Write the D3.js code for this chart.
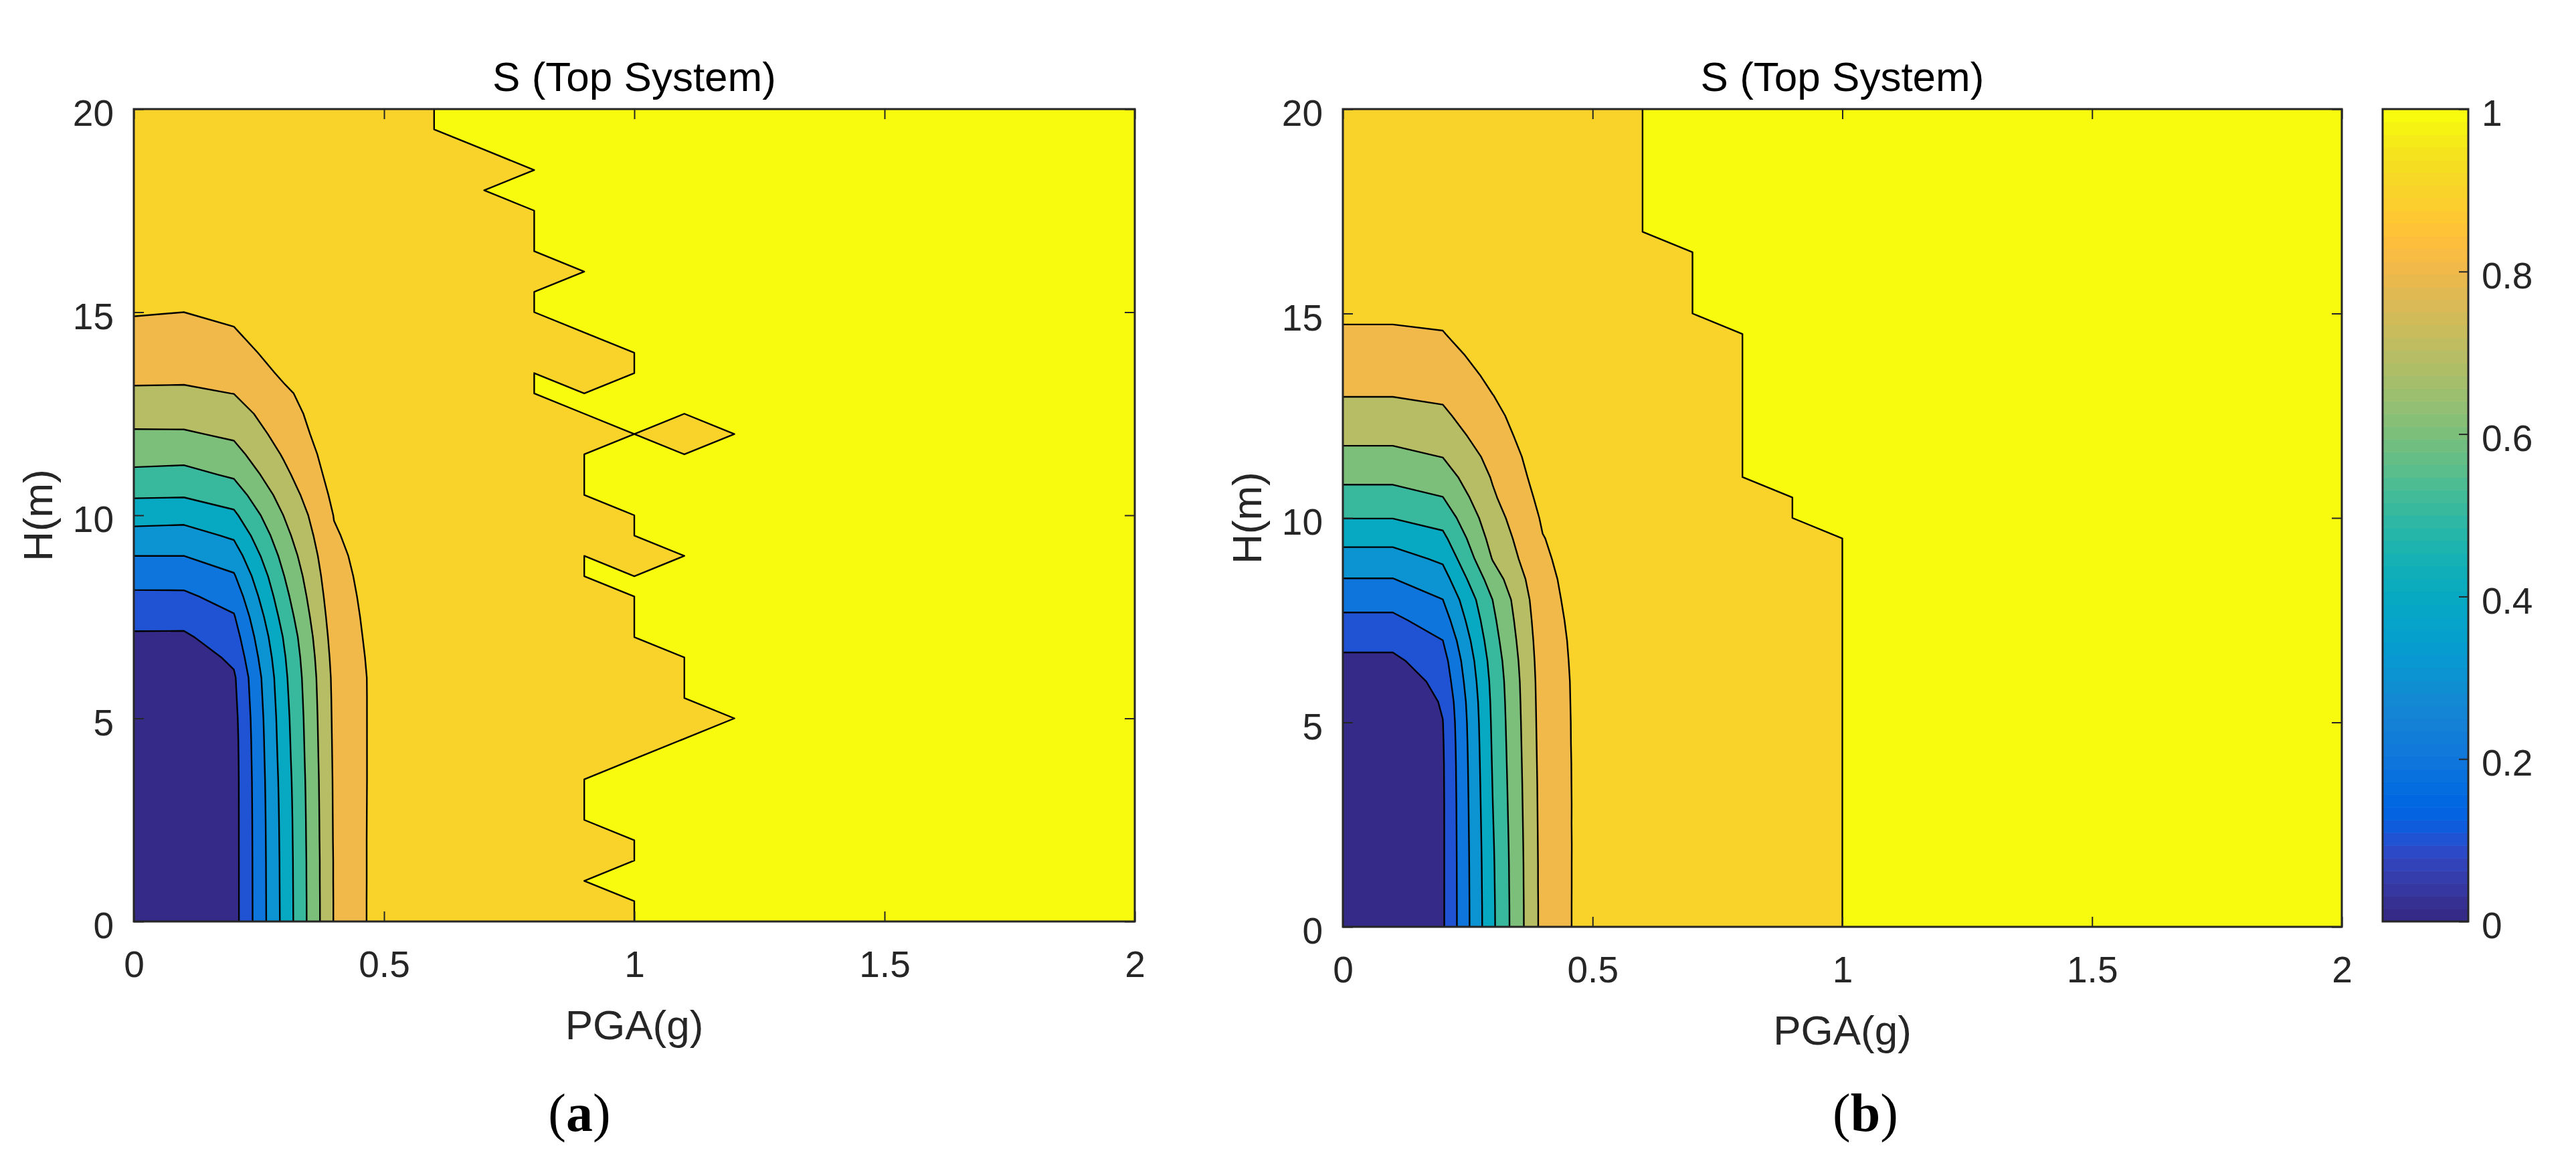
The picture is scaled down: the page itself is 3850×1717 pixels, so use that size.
<!DOCTYPE html>
<html>
<head>
<meta charset="utf-8">
<title>S (Top System)</title>
<script src="https://cdn.jsdelivr.net/npm/d3@7"></script>
<style>
  body { margin: 0; background: #fff; }
  svg { display: block; }
</style>
</head>
<body>
<svg id="chart" width="3850" height="1717"></svg>
<script>
// --- grid the surface was sampled on ---
const pgaGrid = [0, 0.1, 0.2, 0.3, 0.4, 0.5, 0.6, 0.7, 0.8, 0.9, 1.0,
                 1.1, 1.2, 1.3, 1.4, 1.5, 1.6, 1.7, 1.8, 1.9, 2.0]
const hGrid = [0, 0.5, 1, 1.5, 2, 2.5, 3, 3.5, 4, 4.5, 5, 5.5, 6, 6.5, 7, 7.5,
               8, 8.5, 9, 9.5, 10, 10.5, 11, 11.5, 12, 12.5, 13, 13.5, 14, 14.5,
               15, 15.5, 16, 16.5, 17, 17.5, 18, 18.5, 19, 19.5, 20]

const levels = [0, 0.1, 0.2, 0.3, 0.4, 0.5, 0.6, 0.7, 0.8, 0.9, 1]
const xTicks = [0, 0.5, 1, 1.5, 2]
const yTicks = [0, 5, 10, 15, 20]
const cbTicks = [0, 0.2, 0.4, 0.6, 0.8, 1]

// parula, 64 steps
const parula = [
  '#352a87', '#363093', '#3637a0', '#353dad', '#3243ba', '#2c4ac7', '#2053d4', '#0f5cdd',
  '#0363e1', '#0268e1', '#046de0', '#0871de', '#0d75dc', '#1079da', '#127dd8', '#1481d6',
  '#1485d4', '#1389d3', '#108ed2', '#0c93d2', '#0998d1', '#079ccf', '#06a0cd', '#06a4ca',
  '#06a7c6', '#07a9c2', '#0aacbe', '#0faeb9', '#15b1b4', '#1db3af', '#25b5a9', '#2eb7a4',
  '#38b99e', '#42bb98', '#4dbc92', '#59bd8c', '#65be86', '#71bf80', '#7cbf7b', '#87bf77',
  '#92bf73', '#9cbf6f', '#a5be6b', '#aebe67', '#b7bd64', '#c0bc60', '#c8bc5d', '#d1bb59',
  '#d9ba56', '#e1b952', '#e9b94e', '#f1b94a', '#f8bb44', '#fdbe3d', '#ffc337', '#fec832',
  '#fcce2e', '#fad32a', '#f7d826', '#f5de21', '#f5e41d', '#f5eb18', '#f6f313', '#f9fb0e'
]

// value of S in the wide band right of PGA 0.5 that has not reached 1
const plateau = 0.97

// (a): S at PGA 0..0.5, one row per H (0 -> 20)
const leftCore = [
  [0.000, 0.000, 0.063, 0.430, 0.805, 0.951],
  [0.000, 0.000, 0.063, 0.431, 0.805, 0.951],
  [0.000, 0.000, 0.063, 0.432, 0.806, 0.950],
  [0.000, 0.000, 0.063, 0.433, 0.806, 0.950],
  [0.000, 0.000, 0.063, 0.435, 0.808, 0.949],
  [0.000, 0.000, 0.063, 0.437, 0.809, 0.948],
  [0.000, 0.000, 0.063, 0.440, 0.810, 0.947],
  [0.000, 0.000, 0.063, 0.444, 0.811, 0.946],
  [0.000, 0.000, 0.064, 0.450, 0.813, 0.945],
  [0.000, 0.000, 0.066, 0.455, 0.815, 0.944],
  [0.000, 0.000, 0.070, 0.460, 0.817, 0.943],
  [0.000, 0.000, 0.078, 0.468, 0.819, 0.942],
  [0.000, 0.000, 0.086, 0.476, 0.822, 0.941],
  [0.038, 0.037, 0.121, 0.489, 0.830, 0.943],
  [0.086, 0.085, 0.156, 0.508, 0.840, 0.945],
  [0.134, 0.134, 0.192, 0.538, 0.850, 0.946],
  [0.182, 0.183, 0.239, 0.568, 0.860, 0.947],
  [0.238, 0.239, 0.290, 0.598, 0.870, 0.948],
  [0.300, 0.300, 0.350, 0.632, 0.880, 0.950],
  [0.368, 0.363, 0.414, 0.668, 0.892, 0.952],
  [0.439, 0.433, 0.481, 0.703, 0.903, 0.955],
  [0.512, 0.509, 0.549, 0.741, 0.920, 0.958],
  [0.579, 0.572, 0.613, 0.778, 0.935, 0.960],
  [0.636, 0.632, 0.667, 0.810, 0.945, 0.962],
  [0.688, 0.689, 0.716, 0.840, 0.955, 0.965],
  [0.738, 0.738, 0.759, 0.862, 0.960, 0.967],
  [0.787, 0.786, 0.801, 0.885, 0.962, 0.968],
  [0.821, 0.819, 0.832, 0.915, 0.964, 0.970],
  [0.849, 0.846, 0.863, 0.940, 0.966, 0.971],
  [0.877, 0.873, 0.894, 0.950, 0.967, 0.972],
  [0.906, 0.900, 0.915, 0.955, 0.968, 0.973],
  [0.920, 0.915, 0.930, 0.958, 0.969, 0.974],
  [0.930, 0.928, 0.940, 0.960, 0.970, 0.975],
  [0.938, 0.936, 0.948, 0.962, 0.971, 0.976],
  [0.943, 0.942, 0.953, 0.964, 0.972, 0.977],
  [0.947, 0.946, 0.957, 0.966, 0.973, 0.978],
  [0.950, 0.950, 0.960, 0.968, 0.974, 0.978],
  [0.953, 0.953, 0.962, 0.970, 0.975, 0.979],
  [0.956, 0.956, 0.964, 0.971, 0.976, 0.979],
  [0.958, 0.958, 0.966, 0.972, 0.977, 0.980],
  [0.960, 0.960, 0.968, 0.973, 0.978, 0.980]
]
// (a): first PGA where S = 1, per H
const leftEdge = [1.0, 1.0, 0.9, 1.0, 1.0, 0.9, 0.9, 0.9, 1.0, 1.1, 1.2, 1.1, 1.1, 1.1,
                  1.0, 1.0, 1.0, 0.9, 0.9, 1.0, 1.0, 0.9, 0.9, 0.9, 1.0, 0.9, 0.8, 0.8,
                  1.0, 0.9, 0.8, 0.8, 0.9, 0.8, 0.8, 0.8, 0.7, 0.8, 0.7, 0.6, 0.6]
// (a): isolated nodes below 1 inside the S = 1 area [PGA, H]
const leftPockets = [[1.0, 9.0], [1.1, 12.0], [0.9, 13.5]]

// (b)
const rightCore = [
  [0.000, 0.000, 0.088, 0.483, 0.831, 0.950],
  [0.000, 0.000, 0.088, 0.484, 0.831, 0.950],
  [0.000, 0.000, 0.088, 0.486, 0.832, 0.949],
  [0.000, 0.000, 0.088, 0.488, 0.832, 0.949],
  [0.000, 0.000, 0.088, 0.491, 0.833, 0.948],
  [0.000, 0.000, 0.088, 0.495, 0.834, 0.948],
  [0.000, 0.000, 0.088, 0.499, 0.835, 0.947],
  [0.000, 0.000, 0.089, 0.503, 0.836, 0.947],
  [0.000, 0.000, 0.090, 0.507, 0.838, 0.946],
  [0.000, 0.000, 0.093, 0.511, 0.840, 0.946],
  [0.000, 0.000, 0.098, 0.515, 0.842, 0.945],
  [0.000, 0.000, 0.110, 0.520, 0.844, 0.945],
  [0.029, 0.029, 0.135, 0.527, 0.846, 0.945],
  [0.079, 0.079, 0.160, 0.540, 0.850, 0.946],
  [0.129, 0.129, 0.199, 0.560, 0.855, 0.947],
  [0.179, 0.179, 0.250, 0.580, 0.862, 0.949],
  [0.235, 0.235, 0.299, 0.601, 0.870, 0.951],
  [0.297, 0.297, 0.357, 0.650, 0.878, 0.952],
  [0.361, 0.361, 0.416, 0.705, 0.888, 0.953],
  [0.429, 0.429, 0.476, 0.735, 0.897, 0.954],
  [0.502, 0.502, 0.538, 0.761, 0.910, 0.955],
  [0.563, 0.563, 0.598, 0.788, 0.925, 0.958],
  [0.622, 0.622, 0.652, 0.808, 0.940, 0.960],
  [0.675, 0.675, 0.702, 0.830, 0.950, 0.962],
  [0.722, 0.722, 0.742, 0.860, 0.955, 0.965],
  [0.763, 0.763, 0.782, 0.880, 0.960, 0.967],
  [0.803, 0.803, 0.815, 0.899, 0.962, 0.968],
  [0.831, 0.831, 0.842, 0.920, 0.964, 0.970],
  [0.859, 0.859, 0.870, 0.940, 0.966, 0.971],
  [0.887, 0.887, 0.897, 0.950, 0.967, 0.972],
  [0.915, 0.915, 0.915, 0.955, 0.968, 0.973],
  [0.928, 0.928, 0.930, 0.958, 0.969, 0.974],
  [0.938, 0.938, 0.940, 0.960, 0.970, 0.975],
  [0.944, 0.944, 0.948, 0.962, 0.971, 0.976],
  [0.948, 0.948, 0.953, 0.964, 0.972, 0.977],
  [0.951, 0.951, 0.957, 0.966, 0.973, 0.978],
  [0.953, 0.953, 0.960, 0.968, 0.974, 0.978],
  [0.955, 0.955, 0.962, 0.970, 0.975, 0.979],
  [0.957, 0.957, 0.964, 0.971, 0.976, 0.979],
  [0.959, 0.959, 0.966, 0.972, 0.977, 0.980],
  [0.960, 0.960, 0.968, 0.973, 0.978, 0.980]
]
const rightEdge = [1.0, 1.0, 1.0, 1.0, 1.0, 1.0, 1.0, 1.0, 1.0, 1.0, 1.0, 1.0, 1.0, 1.0,
                   1.0, 1.0, 1.0, 1.0, 1.0, 1.0, 0.9, 0.9, 0.8, 0.8, 0.8, 0.8, 0.8, 0.8,
                   0.8, 0.8, 0.7, 0.7, 0.7, 0.7, 0.6, 0.6, 0.6, 0.6, 0.6, 0.6, 0.6]
const rightPockets = []

const fontSans = '"Liberation Sans", Arial, Helvetica, sans-serif'
const ink = '#262626'

function buildGrid(core, edge, pockets) {
  const values = []
  hGrid.forEach((h, j) => {
    pgaGrid.forEach((x, i) => {
      if (i < core[j].length) {
        values.push(core[j][i])
        return
      }
      const inPocket = pockets.some(p => Math.abs(p[0] - x) < 1e-6 && Math.abs(p[1] - h) < 1e-6)
      values.push(!inPocket && x >= edge[j] - 1e-6 ? 1 : plateau)
    })
  })
  return values
}

function levelColor(v) {
  return parula[Math.min(parula.length - 1, Math.floor(v * parula.length + 1e-9))]
}

const svg = d3.select('#chart')
svg.append('rect').attr('width', 3850).attr('height', 1717).attr('fill', '#fff')

function drawPanel(cfg) {
  const { core, edge, pockets, x0, x1, y0, y1, tag, capX, id } = cfg
  const nx = pgaGrid.length
  const ny = hGrid.length

  const x = d3.scaleLinear().domain([0, 2]).range([x0, x1])
  const y = d3.scaleLinear().domain([0, 20]).range([y1, y0])

  // contour-space -> data
  const gx = d3.scaleLinear().domain([0.5, nx - 0.5]).range([pgaGrid[0], pgaGrid[nx - 1]])
  const gy = d3.scaleLinear().domain([0.5, ny - 0.5]).range([hGrid[0], hGrid[ny - 1]])
  const path = d3.geoPath(d3.geoTransform({
    point: function(px, py) { this.stream.point(x(gx(px)), y(gy(py))) }
  }))

  const values = buildGrid(core, edge, pockets)
  const bands = d3.contours().size([nx, ny]).thresholds(levels)(values)

  svg.append('clipPath').attr('id', id)
    .append('rect')
    .attr('x', x0).attr('y', y0).attr('width', x1 - x0).attr('height', y1 - y0)

  const g = svg.append('g').attr('clip-path', `url(#${id})`)

  g.append('g')
    .selectAll('path')
    .data(bands)
    .join('path')
      .attr('d', path)
      .attr('fill', d => levelColor(d.value))
      .attr('stroke', 'none')

  g.append('g')
    .selectAll('path')
    .data(bands.filter(d => d.value > 0))
    .join('path')
      .attr('d', path)
      .attr('fill', 'none')
      .attr('stroke', '#000')
      .attr('stroke-width', 2.4)
      .attr('stroke-linejoin', 'round')

  // --- axes ---
  const styleAxis = sel => {
    sel.select('.domain').remove()
    sel.selectAll('.tick line').attr('stroke', ink).attr('stroke-width', 2)
    sel.selectAll('.tick text')
      .attr('fill', ink)
      .style('font-family', fontSans)
      .style('font-size', '55px')
  }

  svg.append('g')
    .attr('transform', `translate(0,${y1})`)
    .call(d3.axisBottom(x).tickValues(xTicks).tickSize(-15).tickPadding(44).tickFormat(d3.format('')))
    .call(styleAxis)

  svg.append('g')
    .attr('transform', `translate(0,${y0})`)
    .call(d3.axisTop(x).tickValues(xTicks).tickSize(-15).tickFormat(''))
    .call(styleAxis)

  svg.append('g')
    .attr('transform', `translate(${x0},0)`)
    .call(d3.axisLeft(y).tickValues(yTicks).tickSize(-15).tickPadding(30).tickFormat(d3.format('')))
    .call(styleAxis)
    .call(sel => sel.selectAll('.tick text').attr('dy', '0.45em'))

  svg.append('g')
    .attr('transform', `translate(${x1},0)`)
    .call(d3.axisRight(y).tickValues(yTicks).tickSize(-15).tickFormat(''))
    .call(styleAxis)

  svg.append('rect')
    .attr('x', x0).attr('y', y0).attr('width', x1 - x0).attr('height', y1 - y0)
    .attr('fill', 'none').attr('stroke', ink).attr('stroke-width', 3)

  // --- text ---
  const cx = (x0 + x1) / 2
  svg.append('text')
    .attr('x', cx).attr('y', 136)
    .attr('text-anchor', 'middle')
    .style('font-family', fontSans).style('font-size', '62px')
    .attr('fill', '#000')
    .text('S (Top System)')

  svg.append('text')
    .attr('x', cx).attr('y', y1 + 176)
    .attr('text-anchor', 'middle')
    .style('font-family', fontSans).style('font-size', '62px')
    .attr('fill', ink)
    .text('PGA(g)')

  svg.append('text')
    .attr('transform', `translate(${x0 - 122},${(y0 + y1) / 2}) rotate(-90)`)
    .attr('text-anchor', 'middle')
    .style('font-family', fontSans).style('font-size', '62px')
    .attr('fill', ink)
    .text('H(m)')

  const cap = svg.append('text')
    .attr('x', capX).attr('y', 1690)
    .attr('text-anchor', 'middle')
    .style('font-family', '"Liberation Serif", "Times New Roman", serif')
    .style('font-size', '80px')
    .attr('fill', '#000')
  cap.append('tspan').text('(')
  cap.append('tspan').attr('font-weight', 'bold').text(tag)
  cap.append('tspan').text(')')
}

drawPanel({ core: leftCore, edge: leftEdge, pockets: leftPockets,
            x0: 200, x1: 1696, y0: 163, y1: 1377, tag: 'a', capX: 866, id: 'clipA' })
drawPanel({ core: rightCore, edge: rightEdge, pockets: rightPockets,
            x0: 2007, x1: 3500, y0: 163, y1: 1385, tag: 'b', capX: 2788, id: 'clipB' })

// --- colorbar ---
const cbX0 = 3561
const cbX1 = 3689
const cbScale = d3.scaleLinear().domain([0, 1]).range([1377, 163])
const cb = svg.append('g')
cb.selectAll('rect')
  .data(parula)
  .join('rect')
    .attr('x', cbX0)
    .attr('width', cbX1 - cbX0)
    .attr('y', (d, i) => cbScale((i + 1) / parula.length))
    .attr('height', (d, i) => cbScale(i / parula.length) - cbScale((i + 1) / parula.length) + 0.6)
    .attr('fill', d => d)

svg.append('g')
  .attr('transform', `translate(${cbX1},0)`)
  .call(d3.axisRight(cbScale).tickValues(cbTicks).tickSize(-14).tickPadding(20).tickFormat(d3.format('')))
  .call(sel => {
    sel.select('.domain').remove()
    sel.selectAll('.tick line').attr('stroke', ink).attr('stroke-width', 2)
    sel.selectAll('.tick text')
      .attr('fill', ink)
      .attr('dy', '0.45em')
      .style('font-family', fontSans)
      .style('font-size', '55px')
  })

svg.append('rect')
  .attr('x', cbX0).attr('y', 163).attr('width', cbX1 - cbX0).attr('height', 1377 - 163)
  .attr('fill', 'none').attr('stroke', ink).attr('stroke-width', 3)
</script>
</body>
</html>
